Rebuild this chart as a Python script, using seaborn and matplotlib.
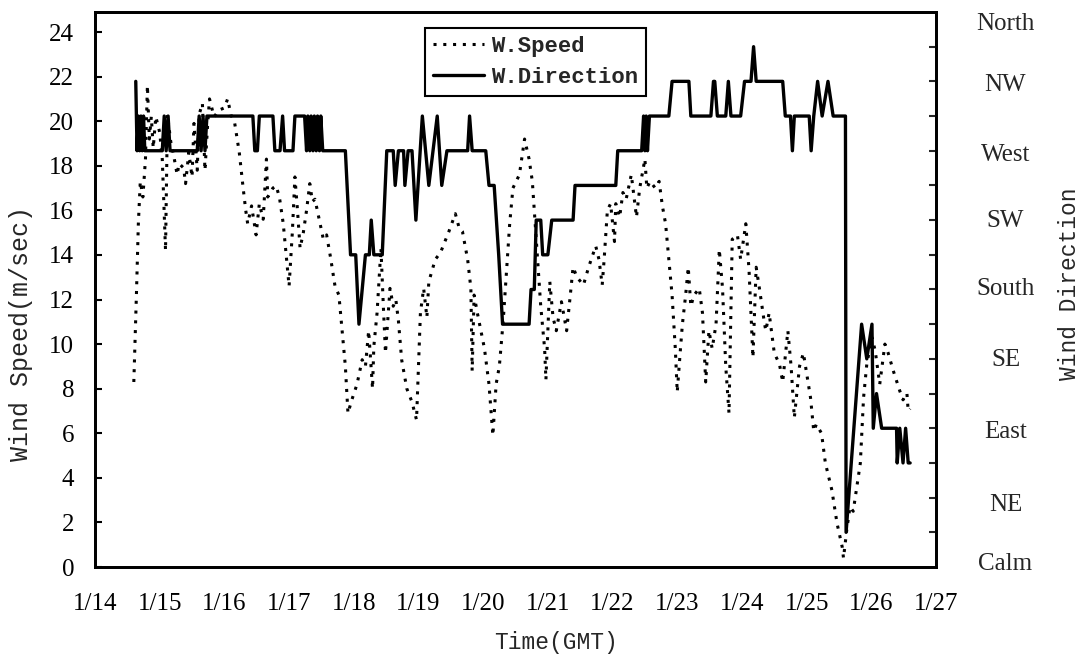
import matplotlib
matplotlib.use("Agg")
import matplotlib.pyplot as plt
from matplotlib.ticker import FixedLocator
import seaborn as sns
import numpy as np

# wind speed (m/sec) against time (day of January, GMT)
speed_day = [14.60, 14.64, 14.67, 14.70, 14.74, 14.78, 14.81, 14.84, 14.87, 14.90,
             14.94, 15.00, 15.04, 15.09, 15.12, 15.17, 15.22, 15.27, 15.30, 15.37,
             15.40, 15.45, 15.50, 15.53, 15.58, 15.61, 15.66, 15.70, 15.74, 15.77,
             15.84, 15.92, 16.00, 16.05, 16.10, 16.16, 16.23, 16.29, 16.33, 16.36,
             16.42, 16.49, 16.54, 16.60, 16.65, 16.67, 16.75, 16.80, 16.85, 16.91,
             17.00, 17.05, 17.09, 17.13, 17.17, 17.22, 17.27, 17.32, 17.36, 17.40,
             17.48, 17.53, 17.58, 17.64, 17.71, 17.77, 17.82, 17.87, 17.91, 17.97,
             18.05, 18.13, 18.18, 18.23, 18.29, 18.31, 18.36, 18.42, 18.46, 18.49,
             18.56, 18.61, 18.65, 18.69, 18.74, 18.82, 18.90, 18.97, 19.03, 19.08,
             19.13, 19.16, 19.26, 19.34, 19.47, 19.57, 19.63, 19.68, 19.76, 19.81,
             19.83, 19.86, 19.91, 20.02, 20.09, 20.15, 20.20, 20.25, 20.31, 20.41,
             20.46, 20.56, 20.64, 20.71, 20.76, 20.79, 20.84, 20.89, 20.95, 20.97,
             21.03, 21.08, 21.13, 21.21, 21.29, 21.34, 21.39, 21.45, 21.55, 21.63,
             21.74, 21.79, 21.84, 21.87, 21.92, 21.97, 22.03, 22.05, 22.11, 22.16,
             22.21, 22.29, 22.37, 22.42, 22.50, 22.53, 22.58, 22.66, 22.72, 22.77,
             22.82, 22.87, 22.92, 22.97, 23.00, 23.05, 23.08, 23.13, 23.17, 23.21,
             23.26, 23.34, 23.39, 23.44, 23.49, 23.54, 23.60, 23.65, 23.70, 23.75,
             23.80, 23.85, 23.93, 23.98, 24.06, 24.11, 24.17, 24.22, 24.27, 24.35,
             24.37, 24.42, 24.50, 24.58, 24.63, 24.71, 24.76, 24.81, 24.89, 24.95,
             25.06, 25.11, 25.15, 25.23, 25.29, 25.39, 25.47, 25.55, 25.57, 25.62,
             25.67, 25.72, 25.83, 25.88, 25.93, 26.01, 26.06, 26.13, 26.21, 26.26,
             26.34, 26.44, 26.49, 26.55, 26.57, 26.60]
speed_ms = [8.3, 12.2, 15.4, 17.3, 16.6, 18.3, 21.6, 19.2, 20.2, 18.8,
            20.2, 19.5, 18.3, 14.2, 20.3, 19.1, 18.4, 17.6, 18.1, 17.9,
            17.2, 18.6, 17.5, 19.9, 17.8, 20.3, 20.8, 17.8, 19.8, 21.0,
            20.2, 20.5, 20.6, 21.0, 20.3, 19.9, 18.6, 17.0, 16.0, 15.4,
            16.2, 14.9, 16.3, 15.6, 18.3, 16.6, 17.0, 17.1, 16.6, 15.4,
            12.6, 15.0, 17.5, 16.0, 14.3, 15.0, 16.0, 17.2, 16.4, 16.5,
            15.4, 14.7, 14.9, 13.9, 12.6, 12.2, 10.6, 9.0, 6.9, 7.5,
            8.2, 9.3, 9.0, 10.6, 8.0, 9.9, 11.4, 14.3, 11.5, 9.6,
            12.5, 11.7, 12.0, 11.05, 9.3, 8.0, 7.4, 6.6, 11.4, 12.5,
            11.2, 12.8, 13.8, 14.1, 15.05, 15.85, 15.2, 15.05, 13.8, 12.5,
            8.8, 12.2, 11.4, 9.8, 8.2, 5.9, 8.2, 9.0, 11.05, 15.4,
            17.0, 17.6, 19.2, 18.3, 17.3, 16.0, 13.8, 11.7, 9.8, 8.4,
            12.8, 11.2, 10.6, 11.9, 10.6, 12.0, 13.45, 13.0, 12.65, 13.45,
            14.4, 13.8, 12.65, 13.8, 16.0, 16.3, 14.6, 16.3, 15.7, 16.8,
            16.5, 17.6, 15.7, 17.0, 18.3, 17.0, 17.3, 17.0, 17.3, 16.2,
            15.4, 13.8, 12.2, 9.8, 7.85, 9.8, 10.9, 12.2, 13.45, 11.7,
            12.2, 12.5, 11.4, 8.3, 10.6, 9.8, 10.9, 14.25, 12.5, 9.0,
            6.9, 14.7, 14.9, 13.8, 15.4, 13.3, 9.4, 13.45, 12.5, 10.9,
            10.6, 11.4, 9.6, 9.1, 8.3, 10.6, 9.0, 6.7, 9.0, 9.6,
            7.6, 6.1, 6.4, 6.0, 4.66, 3.45, 1.96, 0.9, 0.4, 1.66,
            2.7, 2.5, 4.66, 7.6, 9.1, 10.3, 9.7, 8.2, 10.0, 9.6,
            8.8, 7.9, 7.5, 7.8, 7.0, 7.1]

# wind direction (degrees, 22.5 degree steps)
dir_day = [14.63, 14.65, 14.67, 14.69, 14.71, 14.73, 14.75, 14.77, 15.04, 15.07,
           15.10, 15.13, 15.16, 15.58, 15.61, 15.64, 15.67, 15.70, 15.73, 16.44,
           16.47, 16.51, 16.54, 16.75, 16.78, 16.86, 16.90, 16.93, 17.06, 17.09,
           17.24, 17.27, 17.29, 17.32, 17.34, 17.37, 17.39, 17.42, 17.44, 17.47,
           17.49, 17.52, 17.87, 17.95, 18.03, 18.08, 18.18, 18.24, 18.27, 18.31,
           18.44, 18.51, 18.61, 18.64, 18.69, 18.77, 18.79, 18.84, 18.90, 18.96,
           19.06, 19.16, 19.29, 19.36, 19.44, 19.76, 19.79, 19.83, 20.04, 20.09,
           20.17, 20.24, 20.30, 20.71, 20.74, 20.79, 20.82, 20.89, 20.92, 21.00,
           21.06, 21.39, 21.42, 22.05, 22.08, 22.45, 22.48, 22.50, 22.52, 22.54,
           22.57, 22.87, 22.92, 23.18, 23.21, 23.52, 23.56, 23.58, 23.62, 23.75,
           23.79, 23.83, 23.98, 24.04, 24.14, 24.18, 24.22, 24.63, 24.67, 24.75,
           24.78, 24.81, 25.04, 25.07, 25.11, 25.17, 25.24, 25.33, 25.41, 25.60,
           25.61, 25.85, 25.93, 26.01, 26.03, 26.08, 26.16, 26.39, 26.40, 26.44,
           26.49, 26.53, 26.57, 26.60]
dir_deg = [315, 270, 292.5, 270, 292.5, 270, 292.5, 270, 270, 292.5,
           270, 292.5, 270, 270, 292.5, 270, 292.5, 270, 292.5, 292.5,
           270, 270, 292.5, 292.5, 270, 270, 292.5, 270, 270, 292.5,
           292.5, 270, 292.5, 270, 292.5, 270, 292.5, 270, 292.5, 270,
           292.5, 270, 270, 202.5, 202.5, 157.5, 202.5, 202.5, 225, 202.5,
           202.5, 270, 270, 247.5, 270, 270, 247.5, 270, 270, 225,
           292.5, 247.5, 292.5, 247.5, 270, 270, 292.5, 270, 270, 247.5,
           247.5, 202.5, 157.5, 157.5, 180, 180, 225, 225, 202.5, 202.5,
           225, 225, 247.5, 247.5, 270, 270, 292.5, 270, 292.5, 270,
           292.5, 292.5, 315, 315, 292.5, 292.5, 315, 315, 292.5, 292.5,
           315, 292.5, 292.5, 315, 315, 337.5, 315, 315, 292.5, 292.5,
           270, 292.5, 292.5, 270, 292.5, 315, 292.5, 315, 292.5, 292.5,
           22.5, 157.5, 135, 157.5, 90, 112.5, 90, 90, 67.5, 90,
           67.5, 90, 67.5, 67.5]

day_ticks = list(range(14, 28))
day_labels = [f"1/{d}" for d in day_ticks]
dir_names = ["Calm", "NE", "East", "SE", "South", "SW", "West", "NW", "North"]
dir_name_pos = [3.5, 42, 89, 136, 182, 226, 269, 314, 354]

sns.set_theme(style="white")
plt.rcParams["font.family"] = ["Liberation Serif", "DejaVu Serif"]
mono = "Liberation Mono"

fig = plt.figure(figsize=(10.87, 6.62), dpi=100)
ax = fig.add_axes([0.0874, 0.1435, 0.7737, 0.8384])
ax2 = ax.twinx()

sns.lineplot(x=speed_day, y=speed_ms, ax=ax, color="black", linewidth=2.2,
             sort=False, estimator=None)
sns.lineplot(x=dir_day, y=dir_deg, ax=ax2, color="black", linewidth=2.4,
             sort=False, estimator=None)
speed_line = ax.lines[0]
dir_line = ax2.lines[0]
speed_line.set_linestyle((0, (1, 2.2)))

ax.set_xlim(14, 27)
ax.set_ylim(0, 24.9)
ax2.set_ylim(0, 360)

ax.set_xticks(day_ticks, day_labels)
ax.set_yticks(range(0, 25, 2))
ax.tick_params(axis="x", direction="in", length=6, width=1.5, pad=19,
               labelsize=18, colors="black")
ax.tick_params(axis="y", direction="in", length=5, width=1.5, pad=15,
               labelsize=18, colors="black")

ax2.set_yticks(dir_name_pos, dir_names)
ax2.yaxis.set_minor_locator(FixedLocator(np.arange(22.5, 360, 22.5)))
ax2.tick_params(axis="y", which="major", length=0, pad=50, labelsize=18)
ax2.tick_params(axis="y", which="minor", direction="in", length=5, width=1.5)
for lab in ax2.get_yticklabels():
    lab.set_horizontalalignment("center")

for a in (ax, ax2):
    for sp in a.spines.values():
        sp.set_visible(True)
        sp.set_color("black")
        sp.set_linewidth(2)

ax.set_ylabel("Wind Speed(m/sec)", fontfamily=mono, fontsize=18)
ax.yaxis.set_label_coords(-0.074, 0.42)
ax2.set_ylabel("Wind Direction", fontfamily=mono, fontsize=16.5)
ax2.yaxis.set_label_coords(1.145, 0.51)
ax.set_xlabel("Time(GMT)", fontfamily=mono, fontsize=16.5)
ax.xaxis.set_label_coords(0.548, -0.115)

leg = ax2.legend(handles=[speed_line, dir_line], labels=["W.Speed", "W.Direction"],
                 loc="upper center", bbox_to_anchor=(0.524, 0.971), frameon=True,
                 fancybox=False, edgecolor="black", framealpha=1,
                 prop={"family": mono, "size": 16, "weight": "bold"},
                 handlelength=2.3, borderpad=0.35, labelspacing=0.45,
                 handletextpad=0.3, borderaxespad=0)
leg.get_frame().set_linewidth(1.5)

fig.savefig("out.png", dpi=100)
